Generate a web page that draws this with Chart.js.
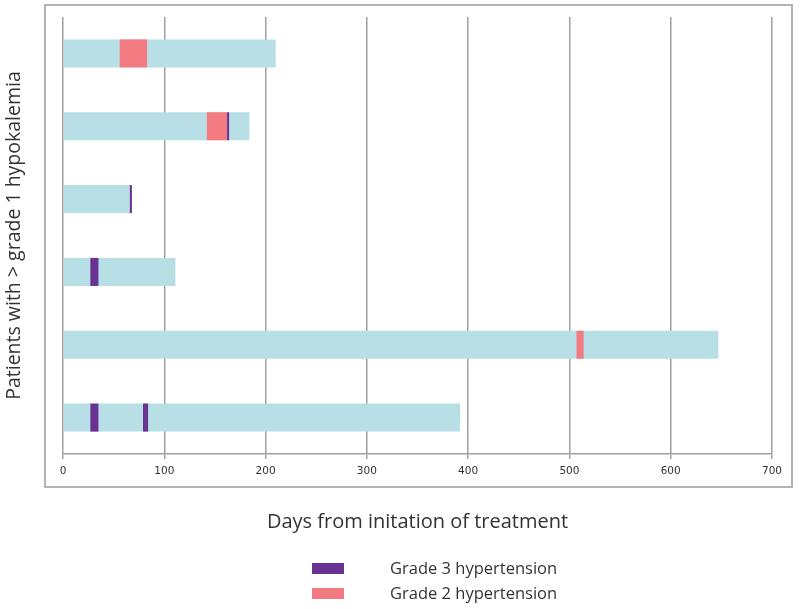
<!DOCTYPE html>
<html>
<head>
<meta charset="utf-8">
<script src="https://cdn.jsdelivr.net/npm/chart.js@4/dist/chart.umd.min.js"></script>
<style>
  html, body { margin: 0; padding: 0; background: #fff; }
  #wrap { position: relative; width: 800px; height: 609px; }
  #frame { position: absolute; left: 44px; top: 4px; width: 745px; height: 480px; border: 2px solid #b3b3b3; box-sizing: content-box; pointer-events: none; }
  canvas { position: absolute; left: 0; top: 0; }
  #legend { position: absolute; left: 312px; top: 558px; font-family: "Open Sans", sans-serif; font-size: 16.5px; color: #333; }
  .item { position: relative; height: 25px; }
  .box { position: absolute; left: 0; top: 5px; width: 32px; height: 11px; }
  .lbl { position: absolute; left: 78px; top: -2px; white-space: nowrap; }
</style>
</head>
<body>
<div id="wrap">
  <div id="frame"></div>
  <canvas id="c" width="800" height="609"></canvas>
  <div id="legend"></div>
</div>
<script>
// ---- Data ----
const patients = ['Patient 1', 'Patient 2', 'Patient 3', 'Patient 4', 'Patient 5', 'Patient 6'];
const followUpDays = [210, 184, 68, 111, 647, 392];
const grade2Start = [56, 142, null, null, 507, null];
const grade2End   = [83, 162, null, null, 514, null];
const grade3StartA = [null, 162, 66, 27, null, 27];
const grade3EndA   = [null, 164, 68, 35, null, 35];
const grade3StartB = [null, null, null, null, null, 79];
const grade3EndB   = [null, null, null, null, null, 84];
const xTicks = [0, 100, 200, 300, 400, 500, 600, 700];

const toRanges = (s, e) => s.map((v, i) => (v === null ? null : [v, e[i]]));

const purple = '#6a3293';
const pink = '#f27a80';
const blue = '#b8dee6';

const data = {
  labels: patients,
  datasets: [
    { label: 'Grade 3 hypertension', data: toRanges(grade3StartA, grade3EndA), backgroundColor: purple, legend: true },
    { label: 'Grade 3 hypertension (2)', data: toRanges(grade3StartB, grade3EndB), backgroundColor: purple, legend: false },
    { label: 'Grade 2 hypertension', data: toRanges(grade2Start, grade2End), backgroundColor: pink, legend: true },
    { label: 'Follow-up', data: followUpDays.map(d => [0, d]), backgroundColor: blue, legend: false }
  ]
};

const chart = new Chart(document.getElementById('c'), {
  type: 'bar',
  data,
  options: {
    indexAxis: 'y',
    responsive: false,
    animation: false,
    maintainAspectRatio: false,
    datasets: { bar: { grouped: false, categoryPercentage: 1, barPercentage: 0.385, borderWidth: 0 } },
    layout: { padding: { top: 17, right: 28, left: 0, bottom: 0 } },
    plugins: { legend: { display: false }, tooltip: { enabled: false } },
    scales: {
      x: {
        type: 'linear', min: 0, max: 700,
        afterBuildTicks: (s) => { s.ticks = xTicks.map(v => ({ value: v })); },
        afterFit: (s) => { s.height = 155; },
        grid: { color: '#a0a0a0', lineWidth: 1.5, tickLength: 5, tickColor: '#a0a0a0' },
        border: { display: true, color: '#a0a0a0', width: 1.5 },
        ticks: { color: '#333', font: { family: 'DejaVu Sans', size: 10.5 }, padding: 6 },
        title: { display: true, text: 'Days from initation of treatment', color: '#333',
                 font: { family: 'Open Sans', size: 20 }, padding: { top: 0, bottom: 75 } }
      },
      y: {
        type: 'category',
        afterFit: (s) => { s.width = 63; },
        grid: { display: false },
        border: { display: false },
        ticks: { display: false },
        title: { display: true, text: 'Patients with > grade 1 hypokalemia', color: '#333',
                 font: { family: 'Open Sans', size: 19.5 }, padding: { top: 3, bottom: 0 } }
      }
    }
  }
});

// HTML legend built from the chart's datasets
const leg = document.getElementById('legend');
chart.data.datasets.filter(d => d.legend).forEach(d => {
  const it = document.createElement('div'); it.className = 'item';
  const b = document.createElement('div'); b.className = 'box'; b.style.background = d.backgroundColor;
  const l = document.createElement('div'); l.className = 'lbl'; l.textContent = d.label;
  it.appendChild(b); it.appendChild(l); leg.appendChild(it);
});
</script>
</body>
</html>
